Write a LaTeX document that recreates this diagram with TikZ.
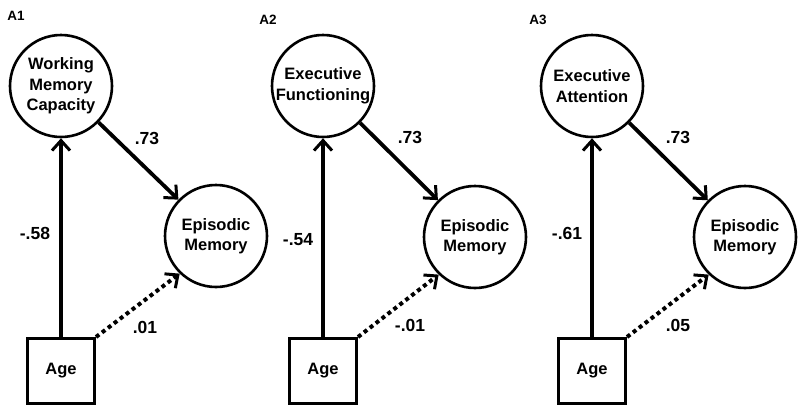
\documentclass[tikz,border=0pt]{standalone}
\usepackage{fontspec}
\setmainfont{Liberation Sans}
\usetikzlibrary{arrows.meta}

\begin{document}
\begin{tikzpicture}[x=1pt, y=-1pt, >={Straight Barb[length=10pt,width=18pt,line width=3pt]},
latent/.style = {draw, circle, line width=2.6pt, minimum size=102pt, inner sep=0pt, align=center, font=\fontsize{16.5}{20.5}\selectfont\bfseries},
manifest/.style = {draw, rectangle, line width=3pt, minimum width=67pt, minimum height=65pt, font=\fontsize{16.5}{20}\selectfont\bfseries},
coef/.style = {font=\fontsize{17.5}{20}\selectfont\bfseries},
panel/.style = {font=\fontsize{13.5}{15}\selectfont\bfseries},
path/.style = {line width=3.8pt},
nspath/.style = {line width=4pt, dash pattern=on 4pt off 3.5pt}]
    \useasboundingbox (0,0) rectangle (800,410);
    % A1
    \node [panel]    (p1)   at (16,16)   {A1};
    \node [latent]   (wmc)  at (61,86)   {Working\\Memory\\Capacity};
    \node [latent]   (em1)  at (216,236) {Episodic\\Memory};
    \node [manifest] (age1) at (61,371)  {Age};
    \node [coef]     (c1a)  at (147,138) {.73};
    \node [coef]     (c1b)  at (35,233)  {-.58};
    \node [coef]     (c1c)  at (145,327) {.01};
    % A2
    \node [panel]    (p2)   at (268,20)  {A2};
    \node [latent]   (ef)   at (323,86)  {Executive\\Functioning};
    \node [latent]   (em2)  at (475,237) {Episodic\\Memory};
    \node [manifest] (age2) at (323,371) {Age};
    \node [coef]     (c2a)  at (410,137) {.73};
    \node [coef]     (c2b)  at (298,240) {-.54};
    \node [coef]     (c2c)  at (410,325) {-.01};
    % A3
    \node [panel]    (p3)   at (538,20)  {A3};
    \node [latent]   (ea)   at (592,86)  {Executive\\Attention};
    \node [latent]   (em3)  at (745,237) {Episodic\\Memory};
    \node [manifest] (age3) at (592,371) {Age};
    \node [coef]     (c3a)  at (678,137) {.73};
    \node [coef]     (c3b)  at (567,233) {-.61};
    \node [coef]     (c3c)  at (678,325) {.05};
    \path[->]      (age1)         edge[path] (wmc)
                   (wmc)          edge[path] (em1)
                   (age1.north east) edge[nspath] (em1.226)
                   (age2)         edge[path] (ef)
                   (ef)           edge[path] (em2)
                   (age2.north east) edge[nspath] (em2.226)
                   (age3)         edge[path] (ea)
                   (ea)           edge[path] (em3)
                   (age3.north east) edge[nspath] (em3.226)
                    ;
    \end{tikzpicture}
\end{document}
